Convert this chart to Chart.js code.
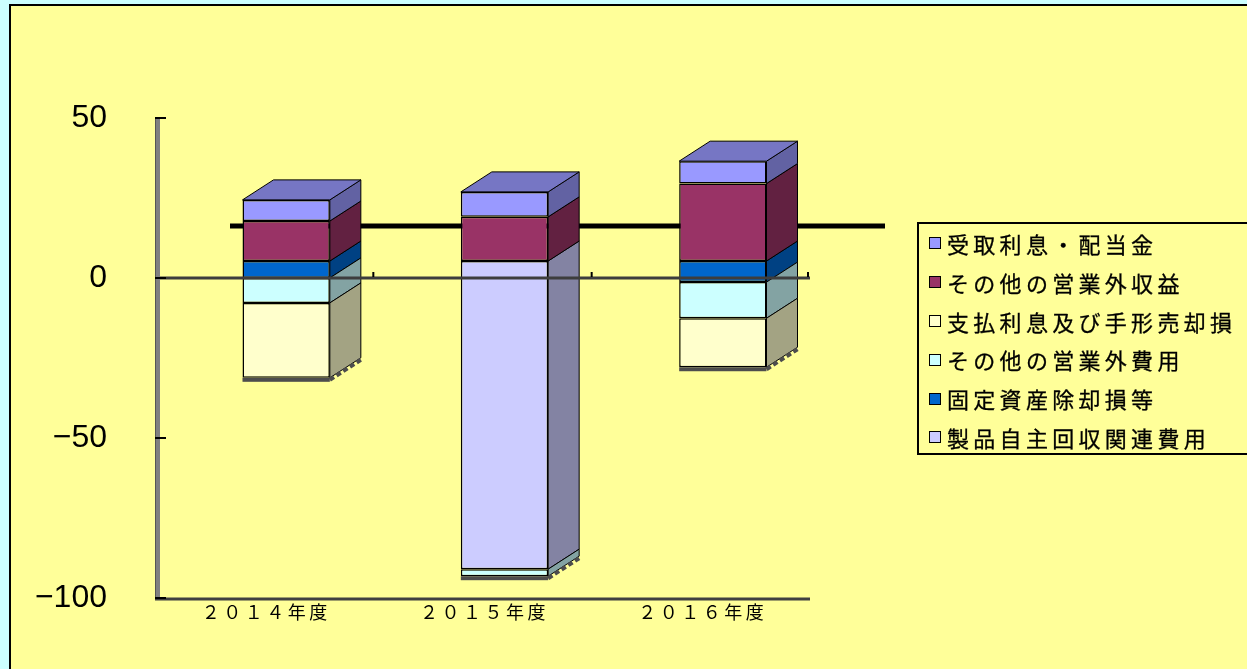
<!DOCTYPE html>
<html lang="ja">
<head>
<meta charset="utf-8">
<title>営業外損益の推移</title>
<script src="https://cdn.jsdelivr.net/npm/chart.js@4.4.1/dist/chart.umd.min.js"></script>
<style>
  html, body { margin: 0; padding: 0; }
  body { width: 1247px; height: 669px; overflow: hidden; background: #ccffff; position: relative; }
  .panel { position: absolute; left: 9px; top: 4px; width: 1300px; height: 700px; background: #ffff99;
           border-left: 2px solid #000; border-top: 2px solid #000; }
  #chart { position: absolute; left: 0; top: 0; }
  .legend { position: absolute; left: 917px; top: 222px; width: 400px; height: 229px; border: 2px solid #000;
            margin: 0; padding: 0; list-style: none; font-family: "Noto Sans CJK JP", sans-serif; font-size: 22px;
            letter-spacing: 4.3px; color: #000; -webkit-text-stroke: 0.3px #000; }
  .legend li { height: 38.8px; line-height: 38.8px; display: flex; align-items: center; white-space: nowrap; }
  .legend .mark { width: 10px; height: 10px; border: 1.5px solid #000; margin: 0 6px 0 10px; flex: none; }
</style>
</head>
<body>
<div class="panel"></div>
<canvas id="chart" width="1247" height="669"></canvas>
<ul class="legend" id="legend"></ul>
<script>
"use strict";
// 年度
const categories = ['２０１４年度', '２０１５年度', '２０１６年度'];

// 億円 (マイナスは費用)
const recallCosts = [0, -96.3, 0];          // 製品自主回収関連費用
const disposalLosses = [-5.3, 0, -6.6];     // 固定資産除却損等
const otherExpenses = [-7.8, -2.2, -11.3];  // その他の営業外費用
const interestPaid = [-23.4, 0, -15.3];     // 支払利息及び手形売却損
const otherIncome = [12.5, 13.8, 24.2];     // その他の営業外収益
const interestReceived = [6.6, 7.8, 7.0];   // 受取利息・配当金

const yMin = -100;
const yMax = 50;
const yStep = 50;

// stacking order: first series sits next to the zero line
const series = [
    { label: '製品自主回収関連費用', data: recallCosts, color: '#ccccff' },
    { label: '固定資産除却損等', data: disposalLosses, color: '#0066cc' },
    { label: 'その他の営業外費用', data: otherExpenses, color: '#ccffff' },
    { label: '支払利息及び手形売却損', data: interestPaid, color: '#ffffcc' },
    { label: 'その他の営業外収益', data: otherIncome, color: '#993366' },
    { label: '受取利息・配当金', data: interestReceived, color: '#9999ff' }
];

const depth = { x: 31, y: -20 };   // receding edge of a column
const plane = { x: 22, y: -17 };   // columns stand behind the front floor edge
const wall = { x: 75, y: -52 };    // back wall zero line

function shade(hex, f) {
    const n = parseInt(hex.slice(1), 16);
    const r = Math.round(((n >> 16) & 255) * f);
    const g = Math.round(((n >> 8) & 255) * f);
    const b = Math.round((n & 255) * f);
    return `rgb(${r},${g},${b})`;
}

function poly(ctx, pts, fill, stroke) {
    ctx.beginPath();
    ctx.moveTo(pts[0][0], pts[0][1]);
    pts.slice(1).forEach(p => ctx.lineTo(p[0], p[1]));
    ctx.closePath();
    ctx.fillStyle = fill;
    ctx.fill();
    if (stroke) {
        ctx.strokeStyle = stroke;
        ctx.lineWidth = 1;
        ctx.stroke();
    }
}

const box3d = {
    id: 'box3d',
    beforeDatasetsDraw(chart) {
        const { ctx, chartArea, scales } = chart;
        const y0 = scales.y.getPixelForValue(0);
        ctx.save();
        ctx.strokeStyle = '#000';
        ctx.lineWidth = 5;
        ctx.beginPath();
        ctx.moveTo(chartArea.left + wall.x, y0 + wall.y);
        ctx.lineTo(chartArea.right + wall.x, y0 + wall.y);
        ctx.stroke();
        ctx.restore();
        ctx.save();
        ctx.translate(plane.x, plane.y);
    },
    afterDatasetsDraw(chart) {
        const { ctx, chartArea, scales } = chart;
        const cols = categories.map(() => ({ top: null, bottom: null }));
        chart.data.datasets.forEach((ds, i) => {
            chart.getDatasetMeta(i).data.forEach((el, j) => {
                const v = ds.data[j];
                if (!v) return;
                const top = Math.min(el.y, el.base);
                const bot = Math.max(el.y, el.base);
                const right = el.x + el.width / 2;
                poly(ctx, [[right, top], [right + depth.x, top + depth.y],
                    [right + depth.x, bot + depth.y], [right, bot]], shade(ds.backgroundColor, 0.64), '#000');
                const c = cols[j];
                if (v > 0 && (!c.top || top < c.top.top)) c.top = { el, top, color: ds.backgroundColor };
                if (v < 0 && (!c.bottom || bot > c.bottom.bot)) c.bottom = { el, bot };
            });
        });
        cols.forEach(c => {
            if (c.top) {
                const l = c.top.el.x - c.top.el.width / 2;
                const r = c.top.el.x + c.top.el.width / 2;
                const t = c.top.top;
                poly(ctx, [[l, t], [l + depth.x, t + depth.y], [r + depth.x, t + depth.y], [r, t]],
                    shade(c.top.color, 0.77), '#000');
            }
            if (c.bottom) {
                const l = c.bottom.el.x - c.bottom.el.width / 2;
                const r = c.bottom.el.x + c.bottom.el.width / 2;
                const b = c.bottom.bot;
                ctx.fillStyle = '#4d4d4d';
                ctx.fillRect(l, b, r - l, 4);
                ctx.save();
                ctx.setLineDash([5, 3]);
                ctx.strokeStyle = '#4d4d4d';
                ctx.lineWidth = 4;
                ctx.beginPath();
                ctx.moveTo(r, b + 2);
                ctx.lineTo(r + depth.x, b + depth.y + 2);
                ctx.stroke();
                ctx.restore();
            }
        });
        ctx.restore();

        // front edge of the floor at zero, drawn across the columns
        const y0 = scales.y.getPixelForValue(0);
        ctx.save();
        ctx.strokeStyle = '#3d3d3d';
        ctx.lineWidth = 3;
        ctx.beginPath();
        ctx.moveTo(chartArea.left, y0);
        ctx.lineTo(chartArea.right, y0);
        ctx.stroke();
        ctx.strokeStyle = '#000';
        ctx.lineWidth = 2;
        const xs = [];
        for (let i = 0; i < categories.length - 1; i++) {
            xs.push((scales.x.getPixelForValue(i) + scales.x.getPixelForValue(i + 1)) / 2);
        }
        xs.push(chartArea.right - 2);
        xs.forEach(x => {
            ctx.beginPath();
            ctx.moveTo(x, y0 - 1);
            ctx.lineTo(x, y0 - 6);
            ctx.stroke();
        });

        // value axis and floor
        ctx.strokeStyle = '#808080';
        ctx.lineWidth = 5;
        ctx.beginPath();
        ctx.moveTo(chartArea.left + 2.5, chartArea.top);
        ctx.lineTo(chartArea.left + 2.5, chartArea.bottom + 2);
        ctx.stroke();
        ctx.strokeStyle = '#555';
        ctx.lineWidth = 1;
        ctx.beginPath();
        ctx.moveTo(chartArea.left + 0.5, chartArea.top);
        ctx.lineTo(chartArea.left + 0.5, chartArea.bottom + 2);
        ctx.stroke();
        ctx.strokeStyle = '#404040';
        ctx.lineWidth = 3;
        ctx.beginPath();
        ctx.moveTo(chartArea.left, chartArea.bottom + 1);
        ctx.lineTo(chartArea.right, chartArea.bottom + 1);
        ctx.stroke();
        ctx.strokeStyle = '#000';
        ctx.lineWidth = 2;
        scales.y.ticks.forEach(t => {
            const y = scales.y.getPixelForValue(t.value);
            ctx.beginPath();
            ctx.moveTo(chartArea.left, y);
            ctx.lineTo(chartArea.left + 11, y);
            ctx.stroke();
        });
        ctx.restore();
    },
    afterDraw(chart) {
        const { ctx, chartArea, scales } = chart;
        ctx.save();
        ctx.font = '18px "Noto Sans CJK JP"';
        ctx.letterSpacing = '3.5px';
        ctx.fillStyle = '#000';
        ctx.textAlign = 'center';
        ctx.textBaseline = 'middle';
        categories.forEach((c, i) => {
            ctx.fillText(c, scales.x.getPixelForValue(i) + 2, chartArea.bottom + 14);
        });
        ctx.restore();
    }
};

new Chart(document.getElementById('chart'), {
    type: 'bar',
    data: {
        labels: categories,
        datasets: series.map(s => ({
            label: s.label,
            data: s.data,
            backgroundColor: s.color,
            borderColor: '#000',
            borderWidth: 1.5,
            borderSkipped: false,
            barPercentage: 0.4,
            categoryPercentage: 1.0,
            clip: false
        }))
    },
    options: {
        responsive: false,
        devicePixelRatio: 1,
        animation: false,
        layout: { padding: { left: 0, right: 437, top: 118, bottom: 31 } },
        plugins: {
            legend: { display: false },
            tooltip: { enabled: false }
        },
        scales: {
            x: {
                stacked: true,
                offset: true,
                grid: { display: false },
                border: { display: false },
                ticks: { display: false },
                afterFit(s) { s.height = 40; }
            },
            y: {
                stacked: true,
                min: yMin,
                max: yMax,
                grid: { display: false },
                border: { display: false },
                ticks: {
                    stepSize: yStep,
                    padding: 40,
                    color: '#000',
                    font: { family: 'Liberation Sans', size: 32 },
                    callback: v => (v < 0 ? '\u2212' + Math.abs(v) : String(v))
                },
                afterFit(s) { s.width = 155; }
            }
        }
    },
    plugins: [box3d]
});

// legend lists the series top-down, as stacked
const legendEl = document.getElementById('legend');
series.slice().reverse().forEach(s => {
    const li = document.createElement('li');
    li.innerHTML = `<span class="mark" style="background:${s.color}"></span><span>${s.label}</span>`;
    legendEl.appendChild(li);
});
</script>
</body>
</html>
